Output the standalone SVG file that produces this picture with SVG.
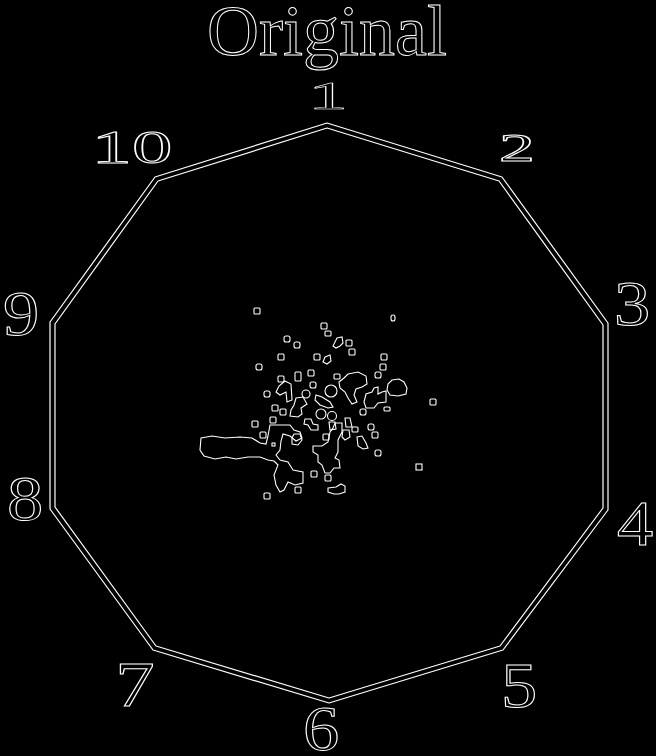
<svg xmlns="http://www.w3.org/2000/svg" width="656" height="756" viewBox="0 0 656 756">
<style>
.ln{fill:none;stroke:#fff;stroke-width:1.2;stroke-linejoin:round}
.t{fill:none;stroke:#fff;stroke-width:1;font-family:"Liberation Serif","DejaVu Serif",serif;text-anchor:middle}
.s{fill:none;stroke:#fff;stroke-width:1.1}
</style>
<rect width="656" height="756" fill="#000"/>
<g id="title"><text class="t" x="327" y="55" font-size="72">Original</text></g>
<g id="decagon">
<polygon class="ln" points="327,123 502,177 608,323 608,510 503,650 329,703 153,650 50,509 50,322 155,177"/>
<polygon class="ln" points="327,128 499,181 603,325 603,508 500,646 329,698 156,646 55,507 55,324 158,181"/>
</g>
<g id="labels">
<text class="t" font-size="40" transform="translate(328,109) scale(2,1)" vector-effect="non-scaling-stroke">1</text>
<text class="t" font-size="41" transform="translate(517,161) scale(1.75,1)">2</text>
<text class="t" font-size="63" transform="translate(632,325) scale(1.15,1)">3</text>
<text class="t" font-size="63" transform="translate(635,545) scale(1.15,1)">4</text>
<text class="t" font-size="63" transform="translate(519,707) scale(1.15,1)">5</text>
<text class="t" font-size="63" transform="translate(321,750) scale(1.15,1)">6</text>
<text class="t" font-size="63" transform="translate(135,706) scale(1.25,1)">7</text>
<text class="t" font-size="63" transform="translate(25,520) scale(1.15,1)">8</text>
<text class="t" font-size="63" transform="translate(21,335) scale(1.15,1)">9</text>
<text class="t" font-size="47" transform="translate(132,163) scale(1.72,1)">10</text>
</g>
<g id="cluster">
<path class="s" d="M201,438 L212,436 L225,438 L240,437 L252,438 L260,443 L266,444 L268,436 L270,425 L290,425 L294,430 L300,432 L302,438 L296,441 L290,436 L283,434 L281,441 L280,450 L276,455 L280,460 L288,462 L293,470 L303,472 L303,483 L295,485 L288,482 L284,490 L280,492 L276,485 L274,475 L278,465 L274,461 L268,460 L260,457 L248,457 L236,459 L226,457 L215,459 L204,456 L200,450 Z"/>
<path class="s" d="M335,423 L342,423 L342,432 L338,440 L338,452 L335,458 L339,460 L340,468 L334,468 L330,473 L325,473 L322,465 L318,462 L318,455 L313,452 L313,446 L322,446 L328,442 L330,432 L333,428 Z"/>
<path class="s" d="M348,374 L358,372 L366,376 L367,384 L362,387 L356,389 L354,395 L357,402 L352,404 L348,398 L345,392 L340,388 L339,382 L344,378 Z"/>
<path class="s" d="M392,380 L399,379 L404,382 L407,388 L406,394 L398,396 L390,395 L387,390 L388,384 Z"/>
<path class="s" d="M374,388 L378,387 L378,394 L382,392 L386,391 L386,402 L378,403 L374,408 L366,408 L364,402 L366,394 L372,392 Z"/>
<path class="s" d="M316,395 L322,397 L330,402 L333,407 L328,408 L320,405 L315,400 Z"/>
<path class="s" d="M296,398 L303,397 L307,404 L301,408 L302,414 L298,417 L290,416 L291,410 L294,405 Z"/>
<path class="s" d="M285,381 L291,384 L292,400 L287,402 L286,392 L280,395 L276,392 L279,386 Z"/>
<path class="s" d="M328,488 L336,487 L341,484 L345,486 L345,492 L339,494 L334,494 L328,492 Z"/>
<path class="s" d="M337,338 L342,337 L343,343 L340,346 L336,348 L333,346 L335,342 Z"/>
<path class="s" d="M325,357 L330,355 L331,361 L327,364 L323,362 Z"/>
<path class="s" d="M294,434 L300,434 L302,440 L298,445 L292,444 L292,438 Z"/>
<path class="s" d="M357,437 L362,436 L366,443 L368,448 L363,449 L358,446 Z"/>
<path class="s" d="M343,430 L349,430 L350,437 L345,440 L342,437 Z"/>
<path class="s" d="M305,419 L311,419 L313,424 L318,425 L318,430 L311,430 L308,425 L304,424 Z"/>
<path class="s" d="M329,422 L335,422 L336,429 L330,430 Z"/>
<path class="s" d="M345,418 L350,418 L352,427 L346,427 Z"/>
<circle class="s" cx="331" cy="391" r="6"/>
<circle class="s" cx="321" cy="414" r="5"/>
<circle class="s" cx="332" cy="416" r="4.5"/>
<circle class="s" cx="306" cy="394" r="4"/>
<rect class="s" x="254" y="308" width="6" height="6" rx="1"/>
<rect class="s" x="391" y="315" width="4" height="6" rx="2"/>
<rect class="s" x="321" y="323" width="6" height="6" rx="1"/>
<rect class="s" x="325" y="331" width="6" height="5" rx="1"/>
<rect class="s" x="284" y="336" width="6" height="6" rx="2"/>
<rect class="s" x="294" y="342" width="6" height="6" rx="2"/>
<rect class="s" x="346" y="340" width="6" height="6" rx="1"/>
<rect class="s" x="349" y="349" width="6" height="6" rx="1"/>
<rect class="s" x="278" y="354" width="6" height="6" rx="1"/>
<rect class="s" x="314" y="354" width="6" height="6" rx="1"/>
<rect class="s" x="381" y="354" width="6" height="6" rx="1"/>
<rect class="s" x="256" y="364" width="6" height="6" rx="2"/>
<rect class="s" x="380" y="364" width="6" height="6" rx="1"/>
<rect class="s" x="295" y="372" width="6" height="9" rx="1"/>
<rect class="s" x="308" y="370" width="6" height="6" rx="1"/>
<rect class="s" x="334" y="374" width="6" height="5" rx="1"/>
<rect class="s" x="375" y="372" width="6" height="6" rx="2"/>
<rect class="s" x="278" y="376" width="6" height="6" rx="1"/>
<rect class="s" x="310" y="382" width="6" height="6" rx="2"/>
<rect class="s" x="264" y="391" width="6" height="6" rx="2"/>
<rect class="s" x="430" y="399" width="6" height="6" rx="1"/>
<rect class="s" x="272" y="405" width="6" height="6" rx="1"/>
<rect class="s" x="280" y="409" width="6" height="6" rx="1"/>
<rect class="s" x="270" y="417" width="6" height="6" rx="1"/>
<rect class="s" x="252" y="421" width="6" height="6" rx="1"/>
<rect class="s" x="360" y="409" width="6" height="6" rx="2"/>
<rect class="s" x="384" y="407" width="6" height="4" rx="1"/>
<rect class="s" x="368" y="424" width="6" height="6" rx="2"/>
<rect class="s" x="372" y="432" width="6" height="6" rx="1"/>
<rect class="s" x="323" y="434" width="6" height="6" rx="1"/>
<rect class="s" x="260" y="432" width="6" height="6" rx="1"/>
<rect class="s" x="352" y="427" width="6" height="5" rx="1"/>
<rect class="s" x="375" y="450" width="6" height="6" rx="2"/>
<rect class="s" x="416" y="464" width="6" height="6" rx="0"/>
<rect class="s" x="311" y="471" width="6" height="6" rx="1"/>
<rect class="s" x="325" y="475" width="6" height="6" rx="1"/>
<rect class="s" x="295" y="487" width="6" height="6" rx="1"/>
<rect class="s" x="264" y="493" width="6" height="6" rx="1"/>
<rect class="s" x="272" y="443" width="3" height="3"/>
</g>
</svg>
